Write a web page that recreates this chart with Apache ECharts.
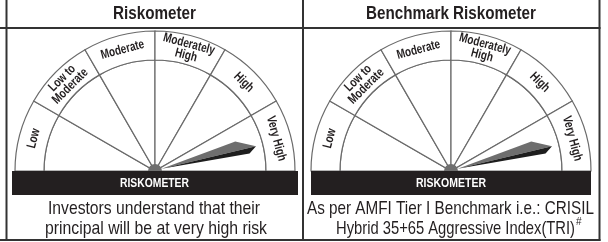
<!DOCTYPE html>
<html><head><meta charset="utf-8">
<script src="https://cdn.jsdelivr.net/npm/echarts@6/dist/echarts.min.js"></script>
<style>html,body{margin:0;padding:0;background:#fff}#c{width:608px;height:242px}</style>
</head><body><div id="c"></div>
<script>
// ---- data ----
const categories = ['Low', 'Low to\nModerate', 'Moderate', 'Moderately\nHigh', 'High', 'Very High'];
const panelTitles = ['Riskometer', 'Benchmark Riskometer'];
const needleValues = [5.54, 5.54];   // position on the 0–6 risk scale (Very High = 5..6)
const bandLabel = 'RISKOMETER';
const footLines1 = ['Investors understand that their', 'principal will be at very high risk'];
const footLines2 = ['As per AMFI Tier I Benchmark i.e.: CRISIL', 'Hybrid 35+65 Aggressive Index(TRI)'];
const footMark2 = '#';

// ---- fonts (condensed look via horizontal scaling) ----
const FAM = '"Liberation Sans", Arial, sans-serif';
const mctx = document.createElement('canvas').getContext('2d');
function fitScale(text, weight, size, width){
  mctx.font = weight + ' ' + size + 'px ' + FAM;
  return width / mctx.measureText(text).width;
}
const SX = 0.77;

// ---- layout / style ----
const INK = '#231f20', LINE = '#6a6a6a', BORDER = '#333333';
const PANEL = [
  {cx: 155, cy: 171, bandX: 12, bandW: 286, title: [113, 83], band: [120, 69],
    foot: [[48, 212], [45, 222]]},
  {cx: 451, cy: 171, bandX: 311, bandW: 280, title: [366, 170], band: [416, 70],
    foot: [[307, 287], [336, 239]]}
];
const R_OUT = 140, R_IN = 111, NEEDLE_LEN = 104, PIVOT_R = 7;

function renderSegment(params, api){
  const i = api.value(1);
  const C = api.coord([0, i]);
  const pA = api.coord([R_OUT, i]);
  const pB = api.coord([R_OUT, i + 1]);
  const a0 = Math.atan2(pA[1] - C[1], pA[0] - C[0]);
  let d = Math.atan2(pB[1] - C[1], pB[0] - C[0]) - a0;
  while (d <= 0) d += 2 * Math.PI;
  while (d > 2 * Math.PI) d -= 2 * Math.PI;
  const a1 = a0 + d;
  const M = api.coord([(R_IN + R_OUT) / 2, i + 0.5]);
  const phi = Math.atan2(-(M[1] - C[1]), M[0] - C[0]);
  const st = {fill: '#fff', stroke: LINE, lineWidth: 1.2};
  return {type: 'group', children: [
    {type: 'sector', shape: {cx: C[0], cy: C[1], r0: 0, r: R_IN, startAngle: a0, endAngle: a1, clockwise: true}, style: st},
    {type: 'sector', shape: {cx: C[0], cy: C[1], r0: R_IN, r: R_OUT, startAngle: a0, endAngle: a1, clockwise: true}, style: st},
    {type: 'text', x: M[0], y: M[1], rotation: phi - Math.PI / 2, scaleX: SX,
      style: {text: categories[i], fill: INK, fontFamily: FAM, fontWeight: 'bold', fontSize: 13,
        lineHeight: 11.5, align: 'center', verticalAlign: 'middle'}}
  ]};
}

function renderNeedle(params, api){
  const v = api.value(1);
  const C = api.coord([0, v]);
  const T = api.coord([NEEDLE_LEN, v]);
  const ux = (T[0] - C[0]) / NEEDLE_LEN, uy = (T[1] - C[1]) / NEEDLE_LEN;
  const nx = uy, ny = -ux;
  const P = (a, n) => [C[0] + ux * a + nx * n, C[1] + uy * a + ny * n];
  return {type: 'group', children: [
    {type: 'polygon', shape: {points: [P(7, 0.5), P(85, 9.5), T]}, style: {fill: '#6e6e6e'}},
    {type: 'polygon', shape: {points: [P(7, 0.5), T, P(96, -5.5)]}, style: {fill: '#1e1e1e'}},
    {type: 'sector', shape: {cx: C[0], cy: C[1], r0: 0, r: PIVOT_R, startAngle: Math.PI, endAngle: 2 * Math.PI, clockwise: true},
      style: {fill: '#6f6f6f'}}
  ]};
}

const graphic = [];
[[6.5, 0, 6.5, 241], [303, 0, 303, 241], [599.5, 0, 599.5, 241], [0, 28, 600.5, 28], [0, 240, 600.5, 240]]
  .forEach(s => graphic.push({type: 'line', z: 10, shape: {x1: s[0], y1: s[1], x2: s[2], y2: s[3]}, style: {stroke: BORDER, lineWidth: 2}}));
function leftText(str, x, y, weight, size, width, fill){
  graphic.push({type: 'text', z: 11, x: x, y: y, scaleX: fitScale(str, weight, size, width),
    style: {text: str, fill: fill, fontFamily: FAM, fontWeight: weight, fontSize: size, align: 'left', verticalAlign: 'middle'}});
}
const feet = [footLines1, footLines2];
PANEL.forEach((p, k) => {
  graphic.push({type: 'rect', z: 10, shape: {x: p.bandX, y: p.cy, width: p.bandW, height: 24}, style: {fill: INK}});
  leftText(bandLabel, p.band[0], p.cy + 12.5, 'bold', 12, p.band[1], '#fff');
  leftText(panelTitles[k], p.title[0], 14.5, 'bold', 18, p.title[1], INK);
  feet[k].forEach((t, j) => leftText(t, p.foot[j][0], 209 + 20 * j, 'normal', 18.5, p.foot[j][1], INK));
});
graphic.push({type: 'text', z: 11, x: PANEL[1].foot[1][0] + PANEL[1].foot[1][1] + 1, y: 222,
  style: {text: footMark2, fill: INK, fontFamily: FAM, fontSize: 10, align: 'left', verticalAlign: 'middle'}});

const chart = echarts.init(document.getElementById('c'), null, {renderer: 'canvas'});
chart.setOption({
  animation: false,
  polar: PANEL.map(p => ({center: [p.cx, p.cy], radius: R_OUT})),
  angleAxis: PANEL.map((p, k) => ({polarIndex: k, type: 'value', min: 0, max: 12, startAngle: 180, clockwise: true, show: false,
    axisLine: {show: false}, axisTick: {show: false}, axisLabel: {show: false}, splitLine: {show: false}})),
  radiusAxis: PANEL.map((p, k) => ({polarIndex: k, type: 'value', min: 0, max: R_OUT, show: false,
    axisLine: {show: false}, axisTick: {show: false}, axisLabel: {show: false}, splitLine: {show: false}})),
  series: PANEL.flatMap((p, k) => [
    {type: 'custom', coordinateSystem: 'polar', polarIndex: k, z: 2, silent: true,
      data: categories.map((c, i) => [0, i]), renderItem: renderSegment},
    {type: 'custom', coordinateSystem: 'polar', polarIndex: k, z: 20, silent: true,
      data: [[0, needleValues[k]]], renderItem: renderNeedle}
  ]),
  graphic: graphic
});
</script>
</body></html>
